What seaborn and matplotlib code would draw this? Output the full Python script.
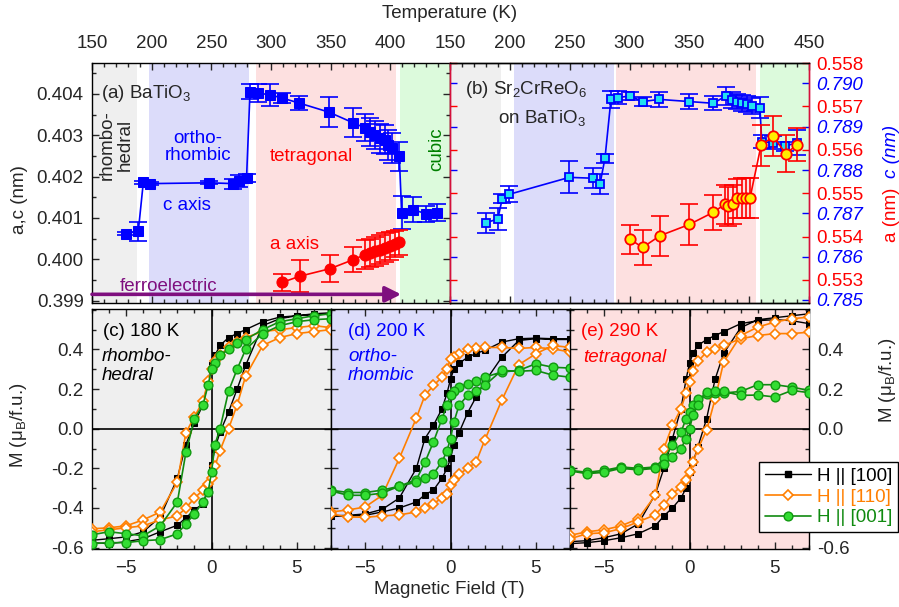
import numpy as np
import matplotlib
matplotlib.use("Agg")
import matplotlib.pyplot as plt
from matplotlib.ticker import MultipleLocator, FixedLocator, FuncFormatter
from matplotlib.lines import Line2D
import seaborn as sns

sns.set_style("ticks")
plt.rcParams['font.family'] = ['Liberation Sans', 'DejaVu Sans']
plt.rcParams.update({
    'font.size': 13.5,
    'mathtext.fontset': 'custom',
    'mathtext.rm': 'Liberation Sans',
    'mathtext.it': 'Liberation Sans:italic',
    'axes.linewidth': 1.0,
    'axes.edgecolor': 'black',
})

# ---- (a) BaTiO3 lattice parameters
T_c = [178.5, 188.8, 193.0, 198.6, 248.3, 268.4, 273.4, 279.5, 282.4, 289.4, 299.2, 309.5,
       323.7, 348.6, 369.0, 378.8, 383.0, 387.2, 391.4, 395.5, 398.3, 401.2, 407.5,
       409.5, 419.3, 429.9, 439.4]
c_bto = [0.40062, 0.40068, 0.40186, 0.40183, 0.40185, 0.40183, 0.40190, 0.40196, 0.40405,
         0.40402, 0.40398, 0.40390, 0.40378, 0.40356, 0.40330, 0.40318, 0.40309, 0.40301,
         0.40293, 0.40289, 0.40277, 0.40269, 0.40249, 0.40112, 0.40120, 0.40110, 0.40113]
c_bto_err = [0.00003, 0.00023, 0.00004, 0.00004, 0.00004, 0.00012, 0.00015, 0.0001, 0.00018,
             0.00022, 0.00027, 0.00012, 0.00016, 0.00037, 0.00035, 0.00033, 0.00034, 0.00034,
             0.00035, 0.00035, 0.00036, 0.00036, 0.00035, 0.0004, 0.00031, 0.0002, 0.0002]
T_a = [309.5, 324.3, 349.4, 369.0, 378.8, 383.0, 387.2, 391.4, 395.5, 399.7, 403.9, 407.5]
a_bto = [0.39944, 0.39959, 0.39977, 0.39999, 0.40011, 0.40015, 0.40019, 0.40023, 0.40028,
         0.40033, 0.40037, 0.40041]
a_bto_err = [0.0002, 0.00038, 0.00033, 0.00031, 0.00035, 0.00035, 0.00035, 0.00035,
             0.00035, 0.00034, 0.00032, 0.0003]

# ---- (b) Sr2CrReO6 film
T_cf = [179.8, 189.9, 193.7, 199.6, 249.7, 269.7, 275.3, 279.5, 284.5, 290.1, 300.4, 311.0,
        324.9, 350.0, 370.0, 380.6, 385.4, 389.6, 393.7, 397.9, 402.1, 409.0, 410.5, 420.2,
        430.0, 439.7]
c_film = [0.78678, 0.78687, 0.78734, 0.78744, 0.78783, 0.78781, 0.78767, 0.78827, 0.78963,
          0.78967, 0.78971, 0.78958, 0.78963, 0.78958, 0.78954, 0.78971, 0.78961, 0.78958,
          0.78955, 0.78952, 0.78948, 0.78944, 0.78865, 0.78863, 0.78855, 0.78863]
c_film_err = [0.00023, 0.00026, 0.0001, 0.00018, 0.00037, 0.00023, 0.00023, 0.0001, 0.0002,
              0.00015, 0.0001, 0.0001, 0.00018, 0.00017, 0.00016, 0.00021, 0.00018, 0.00018,
              0.00018, 0.00018, 0.00018, 0.00025, 0.00015, 0.00015, 0.0001, 0.00029]
T_af = [300.4, 311.0, 325.4, 350.0, 370.0, 380.0, 382.6, 386.8, 390.1, 393.7, 397.3, 400.7,
        409.9, 420.2, 430.6, 440.2]
a_film = [0.55394, 0.55375, 0.55402, 0.55428, 0.55456, 0.55475, 0.55470, 0.55474, 0.55488,
          0.55489, 0.55489, 0.55489, 0.55610, 0.55631, 0.55591, 0.55612]
a_film_err = [0.00033, 0.00041, 0.00046, 0.00047, 0.00041, 0.00045, 0.00045, 0.00045, 0.00045,
              0.00045, 0.00045, 0.00045, 0.00048, 0.00046, 0.00042, 0.00038]

# ---- (c)-(e) hysteresis loops, field sweep down then up
H_down = [7, 6, 5, 4, 3, 2, 1.5, 1, 0.5, 0.2, 0, -0.2, -0.5, -1, -1.5, -2, -3, -4, -5, -6, -7]
H_up = H_down[::-1]

M180 = {
    '100': ([0.58, 0.575, 0.57, 0.563, 0.54, 0.50, 0.48, 0.46, 0.42, 0.37, 0.32, 0.24, 0.12, 0.03,
             -0.08, -0.25, -0.445, -0.52, -0.546, -0.555, -0.563],
            [-0.575, -0.58, -0.57, -0.555, -0.52, -0.487, -0.45, -0.41, -0.378, -0.30, -0.185,
             -0.10, -0.017, 0.084, 0.20, 0.32, 0.52, 0.555, 0.57, 0.58, 0.585]),
    '110': ([0.51, 0.52, 0.51, 0.50, 0.49, 0.46, 0.44, 0.41, 0.37, 0.34, 0.30, 0.24, 0.14, 0.06,
             -0.02, -0.27, -0.42, -0.46, -0.49, -0.50, -0.505],
            [-0.52, -0.51, -0.50, -0.49, -0.46, -0.44, -0.40, -0.35, -0.31, -0.28, -0.25, -0.19,
             -0.11, 0.0, 0.12, 0.266, 0.42, 0.46, 0.48, 0.49, 0.50]),
    '001': ([0.58, 0.57, 0.555, 0.54, 0.50, 0.45, 0.43, 0.40, 0.37, 0.33, 0.30, 0.22, 0.12, 0.05,
             -0.12, -0.37, -0.49, -0.54, -0.53, -0.52, -0.535],
            [-0.58, -0.575, -0.575, -0.565, -0.56, -0.53, -0.48, -0.43, -0.37, -0.32, -0.22,
             -0.08, 0.0, 0.19, 0.30, 0.40, 0.48, 0.52, 0.54, 0.55, 0.555]),
}
M200 = {
    '100': ([0.454, 0.454, 0.457, 0.454, 0.437, 0.395, 0.38, 0.36, 0.33, 0.30, 0.25, 0.18, 0.10,
             0.017, -0.05, -0.20, -0.35, -0.407, -0.43, -0.437, -0.44],
            [-0.44, -0.44, -0.437, -0.42, -0.40, -0.37, -0.333, -0.31, -0.25, -0.20, -0.15, -0.08,
             -0.02, 0.08, 0.16, 0.235, 0.36, 0.445, 0.454, 0.45, 0.45]),
    '110': ([0.387, 0.403, 0.41, 0.405, 0.41, 0.41, 0.405, 0.40, 0.378, 0.36, 0.353, 0.30, 0.26,
             0.218, 0.168, 0.054, -0.15, -0.336, -0.395, -0.41, -0.42],
            [-0.43, -0.445, -0.447, -0.44, -0.435, -0.42, -0.398, -0.378, -0.35, -0.328, -0.286,
             -0.26, -0.23, -0.20, -0.168, -0.059, 0.143, 0.323, 0.378, 0.42, 0.41]),
    '001': ([0.306, 0.31, 0.328, 0.294, 0.286, 0.26, 0.24, 0.227, 0.21, 0.19, 0.168, 0.12, 0.05,
             -0.067, -0.17, -0.257, -0.29, -0.31, -0.322, -0.322, -0.31],
            [-0.314, -0.336, -0.336, -0.325, -0.29, -0.27, -0.25, -0.227, -0.168, -0.11, -0.05,
             0.034, 0.118, 0.168, 0.19, 0.218, 0.294, 0.29, 0.294, 0.27, 0.26]),
}
M290 = {
    '100': ([0.53, 0.545, 0.55, 0.545, 0.53, 0.49, 0.47, 0.45, 0.42, 0.38, 0.33, 0.25, 0.10, -0.05,
             -0.20, -0.33, -0.48, -0.53, -0.55, -0.565, -0.57],
            [-0.58, -0.575, -0.565, -0.55, -0.53, -0.49, -0.44, -0.40, -0.35, -0.30, -0.22, -0.17,
             -0.09, 0.05, 0.25, 0.38, 0.51, 0.55, 0.56, 0.57, 0.58]),
    '110': ([0.487, 0.48, 0.48, 0.47, 0.454, 0.42, 0.40, 0.387, 0.34, 0.29, 0.235, 0.18, 0.10,
             0.017, -0.10, -0.336, -0.454, -0.49, -0.51, -0.52, -0.538],
            [-0.555, -0.53, -0.525, -0.504, -0.47, -0.434, -0.387, -0.328, -0.294, -0.26, -0.218,
             -0.17, -0.10, -0.008, 0.15, 0.336, 0.47, 0.513, 0.538, 0.555, 0.563]),
    '001': ([0.193, 0.21, 0.222, 0.222, 0.188, 0.18, 0.178, 0.176, 0.15, 0.12, 0.084, 0.05, -0.017,
             -0.084, -0.15, -0.193, -0.20, -0.193, -0.21, -0.22, -0.21],
            [-0.213, -0.227, -0.22, -0.20, -0.208, -0.20, -0.18, -0.143, -0.10, -0.05, 0.0, 0.067,
             0.12, 0.185, 0.188, 0.188, 0.168, 0.17, 0.16, 0.193, 0.182]),
}

GRAY, LBLUE, PINK, LGREEN = '#efefef', '#dcdcfa', '#fde0e0', '#dcfadc'
ORANGE, GREEN, GFACE = '#ff7f00', '#108a10', '#33dd33'
SPINE_R = '#d4103c'
PURPLE = '#7f0f7f'

W, H = 899, 607
fig = plt.figure(figsize=(W / 100, H / 100), dpi=100)


def pos(x0, x1, y0, y1):
    return [x0 / W, 1 - y1 / H, (x1 - x0) / W, (y1 - y0) / H]


def ticks(ax):
    ax.tick_params(which='both', direction='in', top=True, bottom=True, left=True, right=True)
    ax.tick_params(which='major', length=5, width=1)
    ax.tick_params(which='minor', length=3, width=1)


ebar = dict(fmt='none', elinewidth=1.2, capsize=6.5, capthick=1.2, zorder=2)

# ================= panel (a)
axa = fig.add_axes(pos(92, 450, 63, 303))
for lo, hi, col in [(150, 187.5, GRAY), (198, 281.8, LBLUE), (287.5, 405, PINK), (408, 450, LGREEN)]:
    axa.axvspan(lo, hi, color=col, lw=0, zorder=0)
axa.errorbar(T_c, c_bto, yerr=c_bto_err, ecolor='blue', **ebar)
sns.lineplot(x=T_c, y=c_bto, sort=False, estimator=None, color='blue', lw=1.2, marker='s',
             markersize=7.5, markeredgecolor='blue', ax=axa, zorder=3)
axa.errorbar(T_a, a_bto, yerr=a_bto_err, ecolor='red', **ebar)
sns.lineplot(x=T_a, y=a_bto, sort=False, estimator=None, color='red', lw=1.2, marker='o',
             markersize=8, markeredgecolor='red', ax=axa, zorder=3)
axa.annotate('', xy=(409, 0.39915), xytext=(150, 0.39915),
             arrowprops=dict(arrowstyle='-|>,head_length=0.7,head_width=0.35', color=PURPLE,
                             lw=2.6, shrinkA=0, shrinkB=0), zorder=4)
axa.set_xlim(150, 450)
axa.set_ylim(0.39894, 0.40475)
axa.xaxis.set_major_locator(FixedLocator([150, 200, 250, 300, 350, 400]))
axa.xaxis.set_minor_locator(MultipleLocator(10))
axa.yaxis.set_major_locator(MultipleLocator(0.001))
axa.yaxis.set_minor_locator(MultipleLocator(0.0005))
axa.yaxis.set_major_formatter(plt.FormatStrFormatter('%.3f'))
ticks(axa)
axa.tick_params(axis='x', labeltop=True, labelbottom=False, pad=8)
axa.tick_params(axis='y', pad=6)
axa.set_ylabel('a,c (nm)')
axa.yaxis.set_label_coords(-0.18, 0.43)
tra = axa.transAxes
axa.text(0.025, 0.875, '(a) BaTiO$_3$', transform=tra, va='center')
axa.text(0.068, 0.66, 'rhombo-\nhedral', transform=tra, rotation=90, ha='center',
         va='center', multialignment='center', linespacing=1.05)
axa.text(0.296, 0.65, 'ortho-\nrhombic', transform=tra, color='blue', ha='center',
         va='center', linespacing=1.0)
axa.text(0.265, 0.408, 'c axis', transform=tra, color='blue', ha='center', va='center')
axa.text(0.614, 0.61, 'tetragonal', transform=tra, color='red', ha='center', va='center')
axa.text(0.963, 0.64, 'cubic', transform=tra, color='green', rotation=90, ha='center',
         va='center')
axa.text(0.567, 0.242, 'a axis', transform=tra, color='red', ha='center', va='center')
axa.text(0.215, 0.07, 'ferroelectric', transform=tra, color=PURPLE, ha='center', va='center')

# ================= panel (b)
axc = fig.add_axes(pos(450, 809, 63, 303))
axb = axc.twinx()
axb.set_zorder(axc.get_zorder() + 1)
axb.patch.set_visible(False)
for lo, hi, col in [(150, 193, GRAY), (203.5, 286.7, LBLUE), (289, 406, PINK), (409, 450, LGREEN)]:
    axc.axvspan(lo, hi, color=col, lw=0, zorder=0)
axc.errorbar(T_cf, c_film, yerr=c_film_err, ecolor='blue', **ebar)
sns.lineplot(x=T_cf, y=c_film, sort=False, estimator=None, color='blue', lw=1.2, marker='s',
             markersize=6.3, markerfacecolor='#22e0f0', markeredgecolor='blue',
             markeredgewidth=1.3, ax=axc, zorder=3)
axb.errorbar(T_af, a_film, yerr=a_film_err, ecolor='red', **ebar)
sns.lineplot(x=T_af, y=a_film, sort=False, estimator=None, color='red', lw=1.2, marker='o',
             markersize=7.5, markerfacecolor='#ffee00', markeredgecolor='red',
             markeredgewidth=1.3, ax=axb, zorder=3)
axc.set_xlim(150, 450)
axc.set_ylim(0.78493, 0.79047)
axb.set_ylim(0.55247, 0.55800)
axc.xaxis.set_major_locator(MultipleLocator(50))
axc.xaxis.set_minor_locator(MultipleLocator(10))
c_ticks = [0.785, 0.786, 0.787, 0.788, 0.789, 0.790]
a_ticks = [0.553, 0.554, 0.555, 0.556, 0.557, 0.558]
axc.set_yticks(c_ticks, ['%.3f' % v for v in c_ticks], fontstyle='italic', color='blue')
axb.set_yticks(a_ticks, ['%.3f' % v for v in a_ticks], color='red')
ticks(axc)
axc.tick_params(axis='x', labeltop=True, labelbottom=False, pad=8)
axc.tick_params(axis='y', which='both', colors='blue', labelleft=False, labelright=True, pad=5)
axb.tick_params(axis='y', which='both', direction='in', left=True, right=True, length=5,
                width=1, colors='red', labelleft=False, labelright=True, pad=5)
for ax in (axb, axc):
    ax.spines['left'].set_color(SPINE_R)
    ax.spines['right'].set_color(SPINE_R)
trb = axc.transAxes
axc.text(0.042, 0.8875, '(b) Sr$_2$CrReO$_6$', transform=trb, va='center', zorder=6)
axc.text(0.134, 0.77, 'on BaTiO$_3$', transform=trb, va='center', zorder=6)
fig.text(891 / W, 1 - 215 / H, 'a (nm)', color='red', rotation=90, ha='center', va='center')
fig.text(891 / W, 1 - 151 / H, 'c (nm)', color='blue', rotation=90, ha='center', va='center',
         fontstyle='italic')

fig.text(0.5, 1 - 13 / H, 'Temperature (K)', ha='center', va='center')

# ================= panels (c)-(e)
styles = {
    '100': dict(color='black', marker='s', markersize=4.8, markerfacecolor='black',
                markeredgecolor='black', lw=1.0),
    '110': dict(color=ORANGE, marker='D', markersize=5.2, markerfacecolor='white',
                markeredgecolor=ORANGE, markeredgewidth=1.2, lw=1.2),
    '001': dict(color=GREEN, marker='o', markersize=6.3, markerfacecolor=GFACE,
                markeredgecolor='#119911', markeredgewidth=1.0, lw=1.2),
}
panels = [
    (92, 331, GRAY, M180, '(c) 180 K', 'rhombo-\nhedral', 'black'),
    (331, 570, LBLUE, M200, '(d) 200 K', 'ortho-\nrhombic', 'blue'),
    (570, 809, PINK, M290, '(e) 290 K', 'tetragonal', 'red'),
]
H_loop = H_down + H_up
axes_m = []
for i, (x0, x1, bg, data, lab, phase, tcol) in enumerate(panels):
    ax = fig.add_axes(pos(x0, x1, 309, 549))
    ax.set_facecolor(bg)
    ax.axhline(0, color='black', lw=1.2, zorder=1)
    ax.axvline(0, color='black', lw=1.2, zorder=1)
    for key in ['100', '110', '001']:
        down, up = data[key]
        sns.lineplot(x=H_loop, y=down + up, sort=False, estimator=None, ax=ax, zorder=3,
                     **styles[key])
    ax.set_xlim(-7, 7)
    ax.set_ylim(-0.607, 0.604)
    ax.xaxis.set_major_locator(FixedLocator([-5, 0, 5]))
    ax.xaxis.set_minor_locator(MultipleLocator(1))
    ax.yaxis.set_major_locator(FixedLocator([-0.6, -0.4, -0.2, 0.0, 0.2, 0.4]))
    ax.yaxis.set_minor_locator(MultipleLocator(0.1))
    if i == 2:
        # labels -0.2 and -0.4 sit under the legend box
        ax.yaxis.set_major_formatter(
            FuncFormatter(lambda v, p: '' if -0.45 < v < -0.15 else '%.1f' % v))
    else:
        ax.yaxis.set_major_formatter(plt.FormatStrFormatter('%.1f'))
    ticks(ax)
    ax.tick_params(axis='x', pad=8)
    ax.tick_params(axis='y', labelleft=(i == 0), labelright=(i == 2), pad=6)
    ax.text(0.045 if i != 1 else 0.071, 0.905, lab, transform=ax.transAxes, color=tcol,
            va='center')
    if i == 2:
        ax.text(0.055, 0.80, phase, transform=ax.transAxes, color=tcol, va='center',
                fontstyle='italic')
    else:
        ax.text(0.04 if i == 0 else 0.071, 0.762, phase, transform=ax.transAxes, color=tcol,
                va='center', fontstyle='italic', linespacing=1.15)
    axes_m.append(ax)

axes_m[0].set_ylabel('M (μ$_\\mathrm{B}$/f.u.)')
axes_m[0].yaxis.set_label_coords(-0.265, 0.517)
fig.text(888 / W, 1 - 380 / H, 'M (μ$_\\mathrm{B}$/f.u.)', rotation=90, ha='center',
         va='center')
fig.text(0.5, 1 - 590 / H, 'Magnetic Field (T)', ha='center', va='center')

handles = [Line2D([], [], **styles[k]) for k in ['100', '110', '001']]
leg = fig.legend(handles, ['H || [100]', 'H || [110]', 'H || [001]'], loc='lower right',
                 bbox_to_anchor=(898 / W, 1 - 532 / H), frameon=True, fancybox=False,
                 framealpha=1, edgecolor='black', handlelength=2.5, handletextpad=0.3,
                 labelspacing=0.2, borderpad=0.3, borderaxespad=0,
                 labelcolor=['black', ORANGE, GREEN])
leg.get_frame().set_linewidth(1.0)

fig.savefig('out.png', dpi=100)
